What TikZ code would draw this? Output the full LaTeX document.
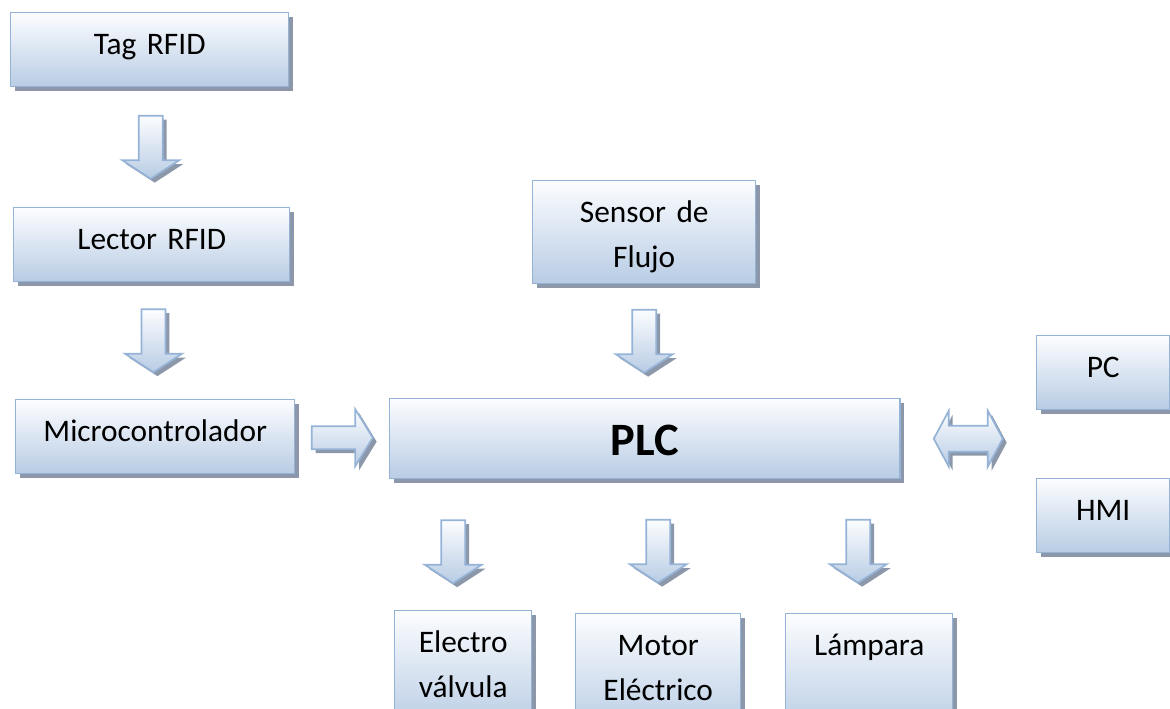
\documentclass[tikz,border=0pt]{standalone}
\usepackage{fontspec}
\setmainfont{Carlito}
\usetikzlibrary{calc,shadows}

\definecolor{blkline}{RGB}{149,179,215}
\definecolor{blktop}{RGB}{252,253,255}
\definecolor{blkbot}{RGB}{184,204,228}
\definecolor{blkshade}{RGB}{140,152,170}

\tikzset{%
  blkfill/.style={%
    draw=blkline, top color=blktop, bottom color=blkbot,
    drop shadow={fill=blkshade, opacity=1, shadow xshift=2.8pt, shadow yshift=-2.8pt}},
  blk/.style={%
    blkfill, line width=1pt, rectangle, anchor=north west, inner sep=0pt,
    align=center, text width=#1, text height=1.05cm, text depth=0.8cm,
    font=\fontsize{22.3}{32}\selectfont},
  arr/.style={blkfill, line width=1.2pt},
  % block arrows, drawn round their centre
  pics/downarr/.style={code={%
    \path[arr] (-12,-31.5) -- (12,-31.5) -- (12,13) -- (28.5,13)
      -- (0,31.5) -- (-28.5,13) -- (-12,13) -- cycle;}},
  pics/rightarr/.style={code={%
    \path[arr] (-30.5,-11.5) -- (13,-11.5) -- (13,-28.5) -- (30.5,0)
      -- (13,28.5) -- (13,11.5) -- (-30.5,11.5) -- cycle;}},
  pics/biarr/.style={code={%
    \path[arr] (-34.5,0) -- (-19.5,-28) -- (-19.5,-13) -- (19.5,-13)
      -- (19.5,-28) -- (34.5,0) -- (19.5,28) -- (19.5,13)
      -- (-19.5,13) -- (-19.5,28) -- cycle;}}
}

\begin{document}
\begin{tikzpicture}[x=0.025cm, y=-0.025cm]
  \useasboundingbox (0,0) rectangle (1170,709);
  \clip (0,0) rectangle (1170,709);

  % RFID chain
  \node[blk=6.95cm]  (tag)    at (10,12)  {Tag RFID};
  \node[blk=6.9cm]   (lector) at (13,207) {Lector RFID};
  \node[blk=6.975cm] (micro)  at (15,399) {Microcontrolador};

  \node[blk=5.575cm, text depth=1.525cm] (sensor) at (532,180) {Sensor de\\Flujo};
  \node[blk=12.75cm, text height=1.425cm, text depth=0.575cm,
        font=\fontsize{33}{40}\selectfont\bfseries] (plc) at (389,398) {PLC};

  \node[blk=3.325cm] (pc)  at (1036,335) {PC};
  \node[blk=3.325cm] (hmi) at (1036,478) {HMI};

  % outputs
  \node[blk=3.425cm, text depth=1.9cm] (valv)  at (394,610) {Electro\\válvula};
  \node[blk=4.125cm, text depth=1.9cm] (motor) at (575,613) {Motor\\Eléctrico};
  \node[blk=4.175cm, text depth=1.9cm] (lamp)  at (785,613) {Lámpara};

  \pic at ($(tag.south)!.5!(lector.north)$) {downarr};
  \pic at ($(lector.south)!.5!(micro.north)$) {downarr};
  \pic at ($(sensor.south)!.5!(plc.north -| sensor.south)$) {downarr};
  \pic at ($(micro.east)!.5!(plc.west)$) {rightarr};
  \pic at ($(plc.east)!.5!(plc.east -| pc.west)$) {biarr};

  \pic[shift={(-10,7)}] at ($(plc.south -| valv.north)!.5!(valv.north)$) {downarr};
  \pic[shift={(0,5)}]   at ($(plc.south -| motor.north)!.5!(motor.north)$) {downarr};
  \pic[shift={(-11,5)}] at ($(plc.south -| lamp.north)!.5!(lamp.north)$) {downarr};
\end{tikzpicture}
\end{document}
